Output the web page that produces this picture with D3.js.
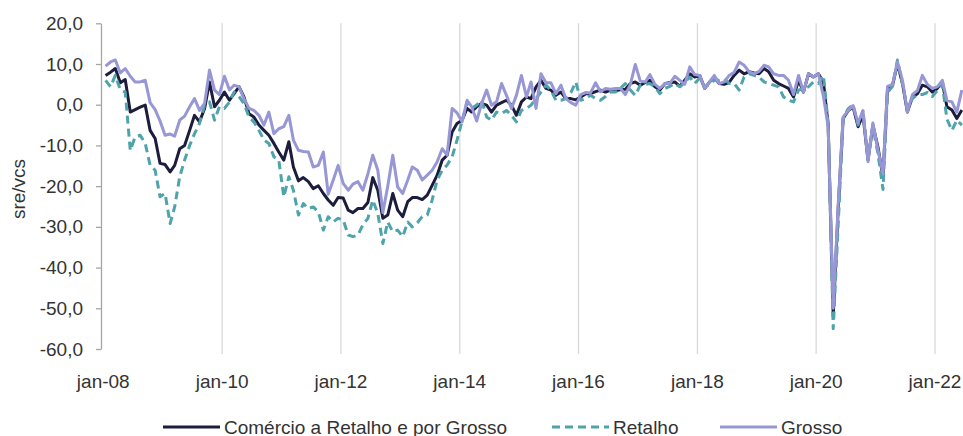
<!DOCTYPE html>
<html lang="pt">
<head>
<meta charset="utf-8" />
<script src="https://cdn.jsdelivr.net/npm/d3@7"></script>
<style>
  body { margin: 0; background: #fff; }
  svg { display: block; font-family: "Liberation Sans", Arial, sans-serif; }
</style>
</head>
<body>
<div id="chart"></div>
<script>
// saldos de respostas extremas (sre/vcs), mensal, jan-08 .. jun-22
var comercio = [
  7.2, 8.0, 8.9, 5.4, 6.2, -1.8, -1.2, -0.6, -0.1, -6.3, -8.3, -14.4,
  -14.7, -16.5, -14.9, -10.8, -10.0, -6.3, -2.6, -4.2, -0.9, 5.6, -0.5, 1.1,
  3.1, 1.1, 2.7, 4.4, 1.9, -2.2, -3.0, -5.0, -6.3, -7.5, -9.5, -11.6,
  -13.6, -9.1, -15.3, -18.7, -17.9, -18.9, -20.6, -19.9, -21.8, -23.4, -24.7, -22.8,
  -22.9, -25.9, -26.5, -25.5, -25.5, -24.0, -17.9, -21.0, -27.9, -27.1, -21.8, -25.9,
  -27.5, -23.8, -22.8, -22.8, -23.3, -22.2, -19.8, -17.3, -13.6, -12.4, -6.7, -4.6,
  -3.8, -0.9, -1.8, -0.5, 0.3, -0.1, -1.8, -0.1, 0.5, 1.1, -0.1, -2.6,
  0.7, 1.9, 1.5, 4.4, 6.0, 4.0, 3.6, 2.3, 3.1, 1.5, 1.5, 1.2,
  1.9, 2.7, 2.7, 3.2, 3.6, 3.1, 3.6, 3.5, 3.7, 3.8, 5.2, 5.6,
  4.8, 5.5, 6.0, 4.4, 3.6, 5.2, 5.4, 5.6, 4.5, 6.0, 7.6, 6.8,
  7.2, 4.0, 5.5, 6.8, 5.2, 5.0, 5.5, 7.2, 8.5, 7.6, 8.1, 7.8,
  7.6, 8.9, 8.1, 6.0, 5.2, 4.6, 4.0, 1.9, 6.0, 3.1, 7.6, 6.8,
  7.6, 5.5, -5.0, -52.0, -26.0, -3.4, -1.5, -0.5, -5.4, -2.5, -13.6, -5.0,
  -10.4, -17.7, 4.0, 4.8, 10.1, 5.2, -1.8, 1.9, 2.7, 4.8, 4.4, 3.1,
  4.0, 5.6, -0.5, -1.3, -3.4, -1.3
];
var retalho = [
  6.0, 4.4, 7.2, 3.6, 3.1, -11.2, -7.9, -7.5, -9.5, -14.9, -16.1, -22.6,
  -21.8, -29.2, -25.1, -17.7, -13.6, -10.0, -7.1, -4.6, -0.1, 0.7, -3.8, -0.5,
  -0.9, 0.7, 3.1, 2.0, 0.3, -3.0, -4.2, -6.3, -8.7, -9.5, -12.8, -13.6,
  -22.6, -17.7, -21.0, -27.1, -24.3, -25.5, -25.1, -26.3, -30.8, -27.5, -28.8, -27.9,
  -28.3, -32.0, -32.4, -32.0, -29.5, -27.9, -23.4, -26.7, -34.1, -28.8, -31.2, -30.8,
  -32.4, -28.8, -30.0, -29.0, -27.5, -27.1, -23.4, -18.5, -16.1, -14.8, -12.8, -8.7,
  -4.0, 0.7, -0.9, -0.1, 1.1, -3.0, -3.8, -1.8, -2.2, -1.4, -2.6, -4.2,
  -1.4, -0.9, -0.1, 1.5, 3.1, 4.8, 3.6, 1.1, 1.1, 1.5, 3.0, 5.6,
  1.1, 1.5, 2.3, 1.5, 1.1, 2.0, 3.1, 3.1, 4.0, 5.2, 3.6, 2.3,
  4.8, 5.0, 5.2, 4.4, 2.7, 4.0, 4.5, 5.2, 4.4, 5.5, 6.8, 5.2,
  6.5, 4.4, 5.0, 6.0, 6.0, 6.4, 5.2, 5.2, 3.6, 6.8, 7.6, 7.2,
  6.8, 5.6, 5.2, 4.8, 4.4, 1.9, 1.1, 0.7, 3.6, 4.0, 4.4, 5.6,
  5.2, 7.2, -4.6, -55.0, -30.0, -3.5, -1.0, 0.0, -5.0, -1.5, -13.0, -5.5,
  -12.0, -20.8, 3.0, 4.5, 11.0, 5.0, -1.0, 1.5, 2.5, 2.5, 3.0, 2.0,
  3.5, 5.0, -3.5, -6.3, -3.8, -5.0
];
var grosso = [
  9.5, 10.5, 11.0, 7.8, 8.9, 7.0, 5.6, 5.6, 6.0, 0.5, -1.2, -4.0,
  -7.5, -7.2, -7.7, -3.8, -2.8, -0.5, 1.5, -1.4, 0.3, 8.5, 3.6, 2.5,
  7.0, 3.6, 4.8, 4.4, 1.5, -0.9, -1.4, -2.6, -5.0, -1.8, -7.1, -5.9,
  -5.4, -2.6, -8.7, -11.2, -11.5, -11.6, -15.3, -14.9, -11.6, -22.0, -18.5, -14.9,
  -19.3, -21.0, -19.5, -18.9, -21.0, -17.0, -12.4, -16.1, -26.5, -20.0, -12.4, -20.2,
  -21.8, -18.5, -15.3, -16.1, -18.5, -17.3, -16.1, -14.0, -10.8, -12.4, -0.9, -2.0,
  -4.2, 1.1, -0.5, -4.0, 0.3, 3.6, -0.1, 0.7, 5.2, 2.3, -0.9, 2.3,
  7.2, 1.9, 5.6, -0.9, 7.6, 5.4, 5.4, 2.7, 4.8, 1.5, 0.5, -0.1,
  2.5, 3.0, 2.9, 5.4, 3.2, 4.0, 3.8, 4.0, 4.0, 2.5, 5.0, 9.9,
  5.8, 5.6, 7.4, 5.0, 4.0, 5.2, 5.2, 7.0, 6.0, 5.0, 9.3, 7.4,
  7.2, 4.0, 5.5, 7.2, 5.2, 5.6, 7.2, 8.0, 10.5, 9.7, 8.1, 7.6,
  8.2, 9.7, 9.3, 7.6, 7.2, 7.2, 6.0, 2.5, 7.2, 3.1, 7.6, 6.8,
  7.6, 2.0, -5.5, -50.0, -25.0, -3.0, -1.5, -0.2, -4.5, -1.5, -14.0, -4.5,
  -11.0, -17.0, 4.5, 5.0, 10.5, 6.0, -1.8, 2.5, 3.5, 7.2, 5.0, 4.0,
  4.4, 6.0, 1.1, 0.7, -1.8, 3.6
];

var yTicks = [20, 10, 0, -10, -20, -30, -40, -50, -60];
var xTickYears = [2008, 2010, 2012, 2014, 2016, 2018, 2020, 2022];
var xTickLabels = ["jan-08", "jan-10", "jan-12", "jan-14", "jan-16", "jan-18", "jan-20", "jan-22"];
var seriesNames = ["Comércio a Retalho e por Grosso", "Retalho", "Grosso"];

var W = 963, H = 436;
var plotL = 101, plotR = 963, plotT = 23.3, plotB = 349;

var svg = d3.select("#chart").append("svg")
  .attr("width", W).attr("height", H);

var months = d3.timeMonth.range(new Date(2008, 0, 1), new Date(2022, 6, 1));

var x = d3.scaleTime()
  .domain([new Date(2007, 11, 18), new Date(2022, 5, 22)])
  .range([plotL, plotR]);
var y = d3.scaleLinear().domain([-60, 20]).range([plotB, plotT]);

// points sit in the middle of each month
function mid(d) { return d3.timeDay.offset(d, 14); }

// vertical gridlines every two years (not on the first one, the axis is there)
svg.append("g").selectAll("line")
  .data(xTickYears.slice(1))
  .join("line")
  .attr("x1", d => x(new Date(d, 0, 1))).attr("x2", d => x(new Date(d, 0, 1)))
  .attr("y1", plotT).attr("y2", plotB + 5)
  .attr("stroke", "#d9d9d9").attr("stroke-width", 1.3);

// x labels
svg.append("g").selectAll("text")
  .data(xTickYears)
  .join("text")
  .attr("x", (d, i) => x(new Date(d, 0, 1)))
  .attr("y", 388)
  .attr("text-anchor", "middle")
  .attr("font-size", 19)
  .attr("fill", "#333")
  .text((d, i) => xTickLabels[i]);

// y axis
var yAxis = svg.append("g")
  .attr("transform", "translate(" + plotL + ",0)")
  .call(d3.axisLeft(y).tickValues(yTicks).tickSize(5).tickSizeOuter(0).tickPadding(13)
    .tickFormat(d => d3.format(".1f")(d).replace(".", ",").replace("−", "-")));
yAxis.select(".domain").attr("stroke", "#a6a6a6").attr("stroke-width", 1.3);
yAxis.selectAll(".tick line").attr("stroke", "#a6a6a6").attr("stroke-width", 1.3);
yAxis.selectAll(".tick text").attr("font-size", 19).attr("fill", "#333")
  .attr("font-family", "Liberation Sans, Arial, sans-serif");

svg.append("text")
  .attr("transform", "translate(25,189) rotate(-90)")
  .attr("text-anchor", "middle")
  .attr("font-size", 19)
  .attr("fill", "#333")
  .text("sre/vcs");

var line = d3.line()
  .x((d, i) => x(mid(months[i])))
  .y(d => y(d));

var styles = [
  { data: comercio, color: "#1c1c3c", dash: null },
  { data: retalho, color: "#4fa3aa", dash: "8,5" },
  { data: grosso, color: "#9797d6", dash: null }
];

styles.forEach(function(s) {
  svg.append("path")
    .datum(s.data)
    .attr("d", line)
    .attr("fill", "none")
    .attr("stroke", s.color)
    .attr("stroke-width", 3)
    .attr("stroke-linejoin", "round")
    .attr("stroke-dasharray", s.dash);
});

// legend
var legendX = [163, 552, 720];
var legend = svg.append("g");
styles.forEach(function(s, i) {
  legend.append("line")
    .attr("x1", legendX[i]).attr("x2", legendX[i] + 57)
    .attr("y1", 427).attr("y2", 427)
    .attr("stroke", s.color).attr("stroke-width", 3)
    .attr("stroke-dasharray", s.dash);
  legend.append("text")
    .attr("x", legendX[i] + 61).attr("y", 433.5)
    .attr("font-size", 19).attr("fill", "#333")
    .text(seriesNames[i]);
});
</script>
</body>
</html>
